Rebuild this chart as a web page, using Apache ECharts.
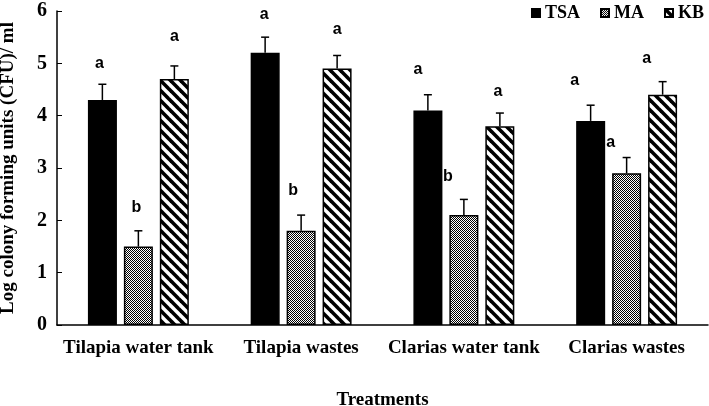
<!DOCTYPE html>
<html>
<head>
<meta charset="utf-8">
<script src="https://cdn.jsdelivr.net/npm/echarts@6/dist/echarts.min.js"></script>
<style>
html,body{margin:0;padding:0;background:#fff;}
#chart{width:709px;height:406px;}
</style>
</head>
<body>
<div id="chart"></div>
<script>
// ---- data ----
const categories = ['Tilapia water tank', 'Tilapia wastes', 'Clarias water tank', 'Clarias wastes'];
const seriesNames = ['TSA', 'MA', 'KB'];
const tsaValues = [4.3, 5.2, 4.1, 3.9];
const maValues = [1.5, 1.8, 2.1, 2.9];
const kbValues = [4.7, 4.9, 3.8, 4.4];
const tsaErrors = [0.3, 0.3, 0.3, 0.3];
const maErrors = [0.3, 0.3, 0.3, 0.3];
const kbErrors = [0.25, 0.25, 0.25, 0.25];
const tsaLetters = ['a', 'a', 'a', 'a'];
const maLetters = ['b', 'b', 'b', 'a'];
const kbLetters = ['a', 'a', 'a', 'a'];
const yTicks = [0, 1, 2, 3, 4, 5, 6];

// ---- styling (letter label pixel offsets relative to error-bar top) ----
const tsaLetterOffsets = [[-3, -21], [-1, -23], [-10, -25], [-16, -25]];
const maLetterOffsets = [[-2, -23], [-8, -25], [-16, -23], [-16, -15]];
const kbLetterOffsets = [[0, -29], [0, -26], [-2, -21], [-16, -23]];

function makeChecker() {
  const c = document.createElement('canvas');
  c.width = 2; c.height = 2;
  const g = c.getContext('2d');
  g.fillStyle = '#ffffff'; g.fillRect(0, 0, 2, 2);
  g.fillStyle = '#000000'; g.fillRect(0, 0, 1, 1); g.fillRect(1, 1, 1, 1);
  return c;
}
function makeStripes() {
  const s = 10;
  const c = document.createElement('canvas');
  c.width = s; c.height = s;
  const g = c.getContext('2d');
  g.fillStyle = '#ffffff'; g.fillRect(0, 0, s, s);
  g.strokeStyle = '#000000'; g.lineWidth = 3.6;
  for (let k = -2; k <= 2; k++) {
    g.beginPath();
    g.moveTo(k * s - s, -s);
    g.lineTo(k * s + 2 * s, 2 * s);
    g.stroke();
  }
  return c;
}

const fills = ['#000000', { image: makeChecker(), repeat: 'repeat' }, { image: makeStripes(), repeat: 'repeat' }];
const valueSets = [tsaValues, maValues, kbValues];
const errorSets = [tsaErrors, maErrors, kbErrors];
const letterSets = [tsaLetters, maLetters, kbLetters];
const offsetSets = [tsaLetterOffsets, maLetterOffsets, kbLetterOffsets];
const barWidth = 29;
const barSpacing = 36;
const serif = '"Liberation Serif", "Times New Roman", serif';

const series = [];
seriesNames.forEach((name, k) => {
  series.push({
    name: name,
    type: 'bar',
    data: valueSets[k],
    barWidth: barWidth,
    barGap: '24%',
    itemStyle: { color: fills[k], borderColor: '#000', borderWidth: 1.5 },
    emphasis: { disabled: true },
    z: 2
  });
});
seriesNames.forEach((name, k) => {
  const shift = (k - 1) * barSpacing;
  series.push({
    name: name + ' err',
    type: 'custom',
    z: 5,
    silent: true,
    encode: { x: 0, y: 1 },
    data: categories.map((c, i) => [i, valueSets[k][i], errorSets[k][i]]),
    renderItem: function (params, api) {
      const i = api.value(0), v = api.value(1), e = api.value(2);
      const p0 = api.coord([i, v]);
      const p1 = api.coord([i, v + e]);
      const x = p0[0] + shift;
      const off = offsetSets[k][i];
      return {
        type: 'group',
        children: [
          { type: 'line', shape: { x1: x, y1: p0[1], x2: x, y2: p1[1] }, style: { stroke: '#000', lineWidth: 1.5 } },
          { type: 'line', shape: { x1: x - 4, y1: p1[1], x2: x + 4, y2: p1[1] }, style: { stroke: '#000', lineWidth: 1.5 } },
          { type: 'text', style: { text: letterSets[k][i], x: x + off[0], y: p1[1] + off[1], font: 'bold 16px "Liberation Sans", Arial, sans-serif', fill: '#000', align: 'center', verticalAlign: 'middle' } }
        ]
      };
    }
  });
});

const chart = echarts.init(document.getElementById('chart'), null, { renderer: 'canvas' });
chart.setOption({
  animation: false,
  backgroundColor: '#ffffff',
  grid: { left: 57, right: 1, top: 11, bottom: 81, outerBoundsMode: 'none', containLabel: false },
  legend: {
    data: seriesNames,
    right: 0,
    top: -1,
    itemWidth: 8,
    itemHeight: 8,
    itemGap: 20,
    icon: 'rect',
    selectedMode: false,
    textStyle: { fontFamily: serif, fontWeight: 'bold', fontSize: 18, color: '#000' }
  },
  xAxis: {
    type: 'category',
    data: categories,
    name: 'Treatments',
    nameLocation: 'middle',
    nameGap: 66,
    nameTextStyle: { fontFamily: serif, fontWeight: 'bold', fontSize: 19, color: '#000' },
    axisLine: { lineStyle: { color: '#000', width: 1.5 } },
    axisTick: { inside: true, length: 5, lineStyle: { color: '#000', width: 1 } },
    axisLabel: { interval: 0, hideOverlap: false, margin: 14, fontFamily: serif, fontWeight: 'bold', fontSize: 19, color: '#000' }
  },
  yAxis: {
    type: 'value',
    min: yTicks[0],
    max: yTicks[yTicks.length - 1],
    interval: 1,
    name: 'Log colony forming units (CFU)/ ml',
    nameLocation: 'middle',
    nameGap: 39,
    nameTextStyle: { fontFamily: serif, fontWeight: 'bold', fontSize: 19, color: '#000' },
    axisLine: { show: true, lineStyle: { color: '#000', width: 1.5 } },
    axisTick: { show: true, inside: true, length: 5, lineStyle: { color: '#000', width: 1 } },
    splitLine: { show: false },
    axisLabel: { margin: 10, fontFamily: serif, fontWeight: 'bold', fontSize: 20, color: '#000' }
  },
  series: series
});
</script>
</body>
</html>
